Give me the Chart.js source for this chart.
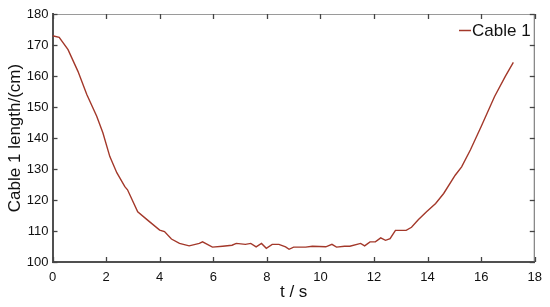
<!DOCTYPE html>
<html>
<head>
<meta charset="utf-8">
<script src="https://cdn.jsdelivr.net/npm/chart.js@4.4.1/dist/chart.umd.min.js"></script>
<style>
  html, body { margin: 0; padding: 0; background: #fff; }
  #wrap { width: 550px; height: 307px; }
</style>
</head>
<body>
<div id="wrap"><canvas id="myChart" width="550" height="307"></canvas></div>
<script>
// time (s) and cable length (cm)
const times = [0, 0.25, 0.58, 0.95, 1.28, 1.65, 1.88, 2.14, 2.4, 2.7, 2.8, 3.18, 3.55, 4.0, 4.18, 4.44, 4.74, 5.1, 5.48, 5.6,
  5.97, 6.35, 6.7, 6.86, 7.2, 7.4, 7.6, 7.8, 7.98, 8.2, 8.45, 8.7, 8.83, 9.0, 9.45, 9.7, 10.2, 10.43, 10.6, 10.9,
  11.1, 11.5, 11.65, 11.85, 12.05, 12.25, 12.43, 12.6, 12.8, 13.2, 13.4, 13.66, 13.96, 14.3, 14.6, 15.03, 15.27, 15.6,
  16.0, 16.5, 16.9, 17.2];
const lengths = [173, 172.5, 168.5, 161.5, 154, 147, 141.7, 134, 128.8, 124.3, 123.3, 116.2, 113.5, 110.3, 109.8, 107.4, 106, 105.2, 106, 106.5,
  104.8, 105.1, 105.4, 106, 105.7, 106, 104.9, 106, 104.4, 105.7, 105.7, 104.9, 104.1, 104.8, 104.8, 105.1, 104.9, 105.7, 104.8, 105.1,
  105.1, 106, 105.2, 106.5, 106.5, 107.8, 107, 107.5, 110.2, 110.2, 111.2, 113.7, 116.2, 118.9, 122.1, 128, 130.7, 136.2,
  143.7, 153.4, 159.9, 164.4];
const seriesName = "Cable 1";
const lineColor = "#a3382a";

const points = times.map((t, i) => ({ x: t, y: lengths[i] }));

// box round the plot, inward ticks, and the legend
const boxPlugin = {
  id: "box",
  afterDraw(chart) {
    const ctx = chart.ctx;
    const a = chart.chartArea;
    const xs = chart.scales.x, ys = chart.scales.y;
    ctx.save();
    ctx.strokeStyle = "#9a9a9a";
    ctx.lineWidth = 1;
    ctx.beginPath();
    ctx.moveTo(a.left, a.top + 0.5); ctx.lineTo(a.right, a.top + 0.5);
    ctx.stroke();
    ctx.strokeStyle = "#666";
    ctx.beginPath();
    ctx.moveTo(a.right - 0.5, a.top); ctx.lineTo(a.right - 0.5, a.bottom);
    ctx.stroke();
    ctx.strokeStyle = "#444";
    ctx.lineWidth = 1.3;
    xs.ticks.forEach(t => {
      const px = Math.round(xs.getPixelForValue(t.value)) + 0.5;
      ctx.beginPath(); ctx.moveTo(px, a.bottom); ctx.lineTo(px, a.bottom - 5); ctx.stroke();
      ctx.beginPath(); ctx.moveTo(px, a.top); ctx.lineTo(px, a.top + 5); ctx.stroke();
    });
    ys.ticks.forEach(t => {
      const py = Math.round(ys.getPixelForValue(t.value)) + 0.5;
      ctx.beginPath(); ctx.moveTo(a.left, py); ctx.lineTo(a.left + 5, py); ctx.stroke();
      ctx.beginPath(); ctx.moveTo(a.right, py); ctx.lineTo(a.right - 5, py); ctx.stroke();
    });
    // legend
    ctx.strokeStyle = lineColor;
    ctx.lineWidth = 1.5;
    ctx.beginPath(); ctx.moveTo(459, 30.5); ctx.lineTo(471, 30.5); ctx.stroke();
    ctx.fillStyle = "#111";
    ctx.font = "17px 'Liberation Sans', Arial, sans-serif";
    ctx.textBaseline = "middle";
    ctx.textAlign = "left";
    ctx.fillText(seriesName, 472, 31);
    ctx.restore();
  }
};

const ctx = document.getElementById("myChart").getContext("2d");
const myChart = new Chart(ctx, {
  type: "line",
  data: {
    datasets: [{
      label: seriesName,
      data: points,
      borderColor: lineColor,
      borderWidth: 1.4,
      pointRadius: 0,
      fill: false,
      tension: 0
    }]
  },
  options: {
    responsive: false,
    animation: false,
    layout: { padding: { top: 14, right: 13, left: 0, bottom: 0 } },
    plugins: { legend: { display: false }, tooltip: { enabled: false } },
    scales: {
      x: {
        type: "linear",
        min: 0, max: 18,
        afterFit: s => { s.height = 45; },
        border: { color: "#505050", width: 2 },
        grid: { display: false, drawTicks: false },
        ticks: { stepSize: 2, padding: 8, color: "#111", font: { family: "'Liberation Sans', Arial, sans-serif", size: 13 } },
        title: { display: true, text: "t / s", color: "#111", padding: { top: 0, bottom: 4 },
          font: { family: "'Liberation Sans', Arial, sans-serif", size: 17 } }
      },
      y: {
        min: 100, max: 180,
        afterFit: s => { s.width = 52.5; },
        border: { color: "#505050", width: 2 },
        grid: { display: false, drawTicks: false },
        ticks: { stepSize: 10, padding: 4, color: "#111", font: { family: "'Liberation Sans', Arial, sans-serif", size: 13 } },
        title: { display: true, text: "Cable 1 length/(cm)", color: "#111", padding: { top: 5, bottom: 0 },
          font: { family: "'Liberation Sans', Arial, sans-serif", size: 17 } }
      }
    }
  },
  plugins: [boxPlugin]
});
</script>
</body>
</html>
